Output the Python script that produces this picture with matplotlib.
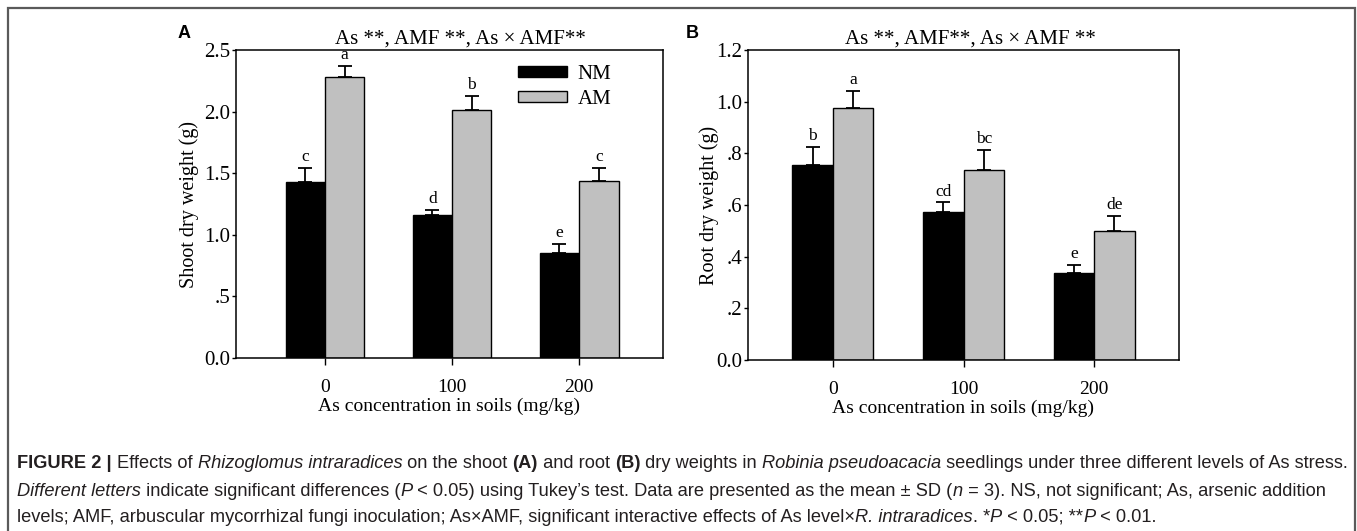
import matplotlib
matplotlib.use("Agg")
import matplotlib.pyplot as plt
from matplotlib.patches import Rectangle
from matplotlib import font_manager
import numpy as np

# ---------------- data ----------------
categories = ["0", "100", "200"]
groups = ["NM", "AM"]
shoot_nm = [1.43, 1.16, 0.85]
shoot_am = [2.28, 2.01, 1.44]
shoot_nm_err = [0.11, 0.04, 0.075]
shoot_am_err = [0.09, 0.12, 0.10]
shoot_nm_letters = ["c", "d", "e"]
shoot_am_letters = ["a", "b", "c"]

root_nm = [0.754, 0.574, 0.338]
root_am = [0.974, 0.737, 0.499]
root_nm_err = [0.072, 0.036, 0.030]
root_am_err = [0.069, 0.075, 0.060]
root_nm_letters = ["b", "cd", "e"]
root_am_letters = ["a", "bc", "de"]

shoot_ticks = [0.0, 0.5, 1.0, 1.5, 2.0, 2.5]
shoot_ticklabels = ["0.0", ".5", "1.0", "1.5", "2.0", "2.5"]
root_ticks = [0.0, 0.2, 0.4, 0.6, 0.8, 1.0, 1.2]
root_ticklabels = ["0.0", ".2", ".4", ".6", ".8", "1.0", "1.2"]

W, H = 1357, 531
fig = plt.figure(figsize=(W / 100, H / 100), dpi=100)
fig.patch.set_facecolor("white")

serif = ["Liberation Serif", "DejaVu Serif"]
NM_COLOR = "black"
AM_COLOR = "#c0c0c0"
bw = 0.31


def panel(rect, nm, am, nm_err, am_err, nm_let, am_let, ticks, ticklabels,
          ylim, xlim, ylabel, title, title_x, ylabelpad, legend=False):
    ax = fig.add_axes(rect)
    x = np.arange(len(categories))
    b1 = ax.bar(x - bw / 2, nm, bw, color=NM_COLOR, edgecolor="black", linewidth=1.0, label=groups[0], zorder=2)
    b2 = ax.bar(x + bw / 2, am, bw, color=AM_COLOR, edgecolor="black", linewidth=1.0, label=groups[1], zorder=2)
    ax.errorbar(x - bw / 2, nm, yerr=[np.zeros(3), nm_err], fmt="none", ecolor="black",
                elinewidth=1.3, capsize=5, capthick=1.3, zorder=1)
    ax.errorbar(x + bw / 2, am, yerr=[np.zeros(3), am_err], fmt="none", ecolor="black",
                elinewidth=1.3, capsize=5, capthick=1.3, zorder=1)
    for xi, v, e, l in zip(x - bw / 2, nm, nm_err, nm_let):
        ax.annotate(l, (xi, v + e), xytext=(0, 2), textcoords="offset points",
                    ha="center", va="bottom", fontsize=12.5, family=serif)
    for xi, v, e, l in zip(x + bw / 2, am, am_err, am_let):
        ax.annotate(l, (xi, v + e), xytext=(0, 2), textcoords="offset points",
                    ha="center", va="bottom", fontsize=12.5, family=serif)
    ax.set_xlim(*xlim)
    ax.set_ylim(*ylim)
    ax.set_xticks(x)
    ax.set_xticklabels(categories, family=serif, fontsize=14)
    ax.set_yticks(ticks)
    ax.set_yticklabels(ticklabels, family=serif, fontsize=15)
    ax.tick_params(axis="x", direction="out", length=5, width=1, pad=10)
    ax.tick_params(axis="y", direction="out", length=3, width=1, pad=1)
    for s in ax.spines.values():
        s.set_linewidth(1.1)
    ax.set_xlabel("As concentration in soils (mg/kg)", family=serif, fontsize=14, labelpad=1)
    ax.set_ylabel(ylabel, family=serif, fontsize=14.5, labelpad=ylabelpad)
    ax.set_title(title, family=serif, fontsize=15, pad=5, x=title_x)
    if legend:
        ax.legend(handles=[b1, b2], loc="upper left",
                  bbox_to_anchor=((518 - 236) / 427, (358 - 65) / 308),
                  borderpad=0, borderaxespad=0,
                  frameon=False, handlelength=2.35, handleheight=0.45,
                  handletextpad=0.5, labelspacing=0.28,
                  prop={"family": serif, "size": 15})
    return ax


axA = panel([236 / W, (H - 358) / H, 427 / W, 308 / H], shoot_nm, shoot_am,
            shoot_nm_err, shoot_am_err, shoot_nm_letters, shoot_am_letters,
            shoot_ticks, shoot_ticklabels, (0, 2.5), (-0.70, 2.66),
            "Shoot dry weight (g)", "As **, AMF **, As \u00d7 AMF**",
            (460 - 236) / 427, 4, legend=True)
axB = panel([748 / W, (H - 360) / H, 431 / W, 310 / H], root_nm, root_am,
            root_nm_err, root_am_err, root_nm_letters, root_am_letters,
            root_ticks, root_ticklabels, (0, 1.2), (-0.65, 2.65),
            "Root dry weight (g)", "As **, AMF**, As \u00d7 AMF **",
            (970 - 748) / 431, -2)

fig.text(178 / W, 1 - 33 / H, "A", fontsize=13, fontweight="bold", family="Liberation Sans",
         ha="left", va="center")
fig.text(686 / W, 1 - 33 / H, "B", fontsize=13, fontweight="bold", family="Liberation Sans",
         ha="left", va="center")

# outer frame
fig.add_artist(Rectangle((8 / W, -0.05), (1355 - 8) / W, 1.05 - 8 / H,
                         transform=fig.transFigure, fill=False,
                         edgecolor="#5a5a5a", linewidth=1.6))

# ---------------- caption ----------------
cap_lines = [
    [("FIGURE 2 | ", "bold", "normal"), ("Effects of ", "normal", "normal"),
     ("Rhizoglomus intraradices", "normal", "italic"), (" on the shoot ", "normal", "normal"),
     ("(A)", "bold", "normal"), (" and root ", "normal", "normal"), ("(B)", "bold", "normal"),
     (" dry weights in ", "normal", "normal"), ("Robinia pseudoacacia", "normal", "italic"),
     (" seedlings under three different levels of As stress.", "normal", "normal")],
    [("Different letters", "normal", "italic"),
     (" indicate significant differences (", "normal", "normal"), ("P", "normal", "italic"),
     (" < 0.05) using Tukey\u2019s test. Data are presented as the mean \u00b1 SD (", "normal", "normal"),
     ("n", "normal", "italic"), (" = 3). NS, not significant; As, arsenic addition", "normal", "normal")],
    [("levels; AMF, arbuscular mycorrhizal fungi inoculation; As\u00d7AMF, significant interactive effects of As level\u00d7", "normal", "normal"),
     ("R. intraradices", "normal", "italic"), (". *", "normal", "normal"), ("P", "normal", "italic"),
     (" < 0.05; **", "normal", "normal"), ("P", "normal", "italic"), (" < 0.01.", "normal", "normal")],
]
cap_y = [464, 491, 517]
installed = {f.name for f in font_manager.fontManager.ttflist}
if "Liberation Sans Narrow" in installed:
    cap_font = ["Liberation Sans Narrow", "Liberation Sans", "DejaVu Sans"]
else:
    cap_font = ["Liberation Sans", "DejaVu Sans"]
renderer = fig.canvas.get_renderer()


def line_width(runs, size):
    total = 0
    for txt, wt, st in runs:
        t = fig.text(0, 0, txt, fontsize=size, fontweight=wt, fontstyle=st, family=cap_font)
        total += t.get_window_extent(renderer).width
        t.remove()
    return total


base = 12.0
w0 = line_width(cap_lines[0], base)
size = base * (1332 / w0)
for runs, yy in zip(cap_lines, cap_y):
    xpix = 17
    for txt, wt, st in runs:
        t = fig.text(xpix / W, 1 - yy / H, txt, fontsize=size, fontweight=wt, fontstyle=st,
                     family=cap_font, ha="left", va="center", color="#231f20")
        xpix += t.get_window_extent(renderer).width

fig.savefig("out.png", dpi=100, facecolor="white")
